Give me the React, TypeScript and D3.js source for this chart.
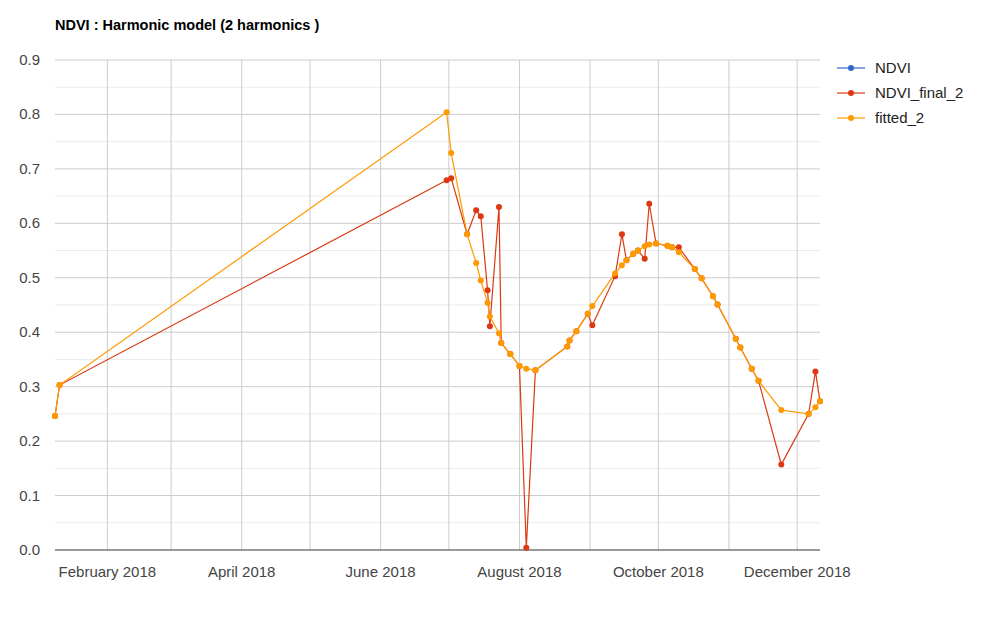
import * as d3 from 'd3';

const dates = [
  '2018-01-09', '2018-01-11', '2018-06-30', '2018-07-02', '2018-07-09', '2018-07-13', '2018-07-15',
  '2018-07-18', '2018-07-19', '2018-07-23', '2018-07-24', '2018-07-28', '2018-08-01', '2018-08-04',
  '2018-08-08', '2018-08-22', '2018-08-23', '2018-08-26', '2018-08-31', '2018-09-02', '2018-09-12',
  '2018-09-15', '2018-09-17', '2018-09-20', '2018-09-22', '2018-09-25', '2018-09-27', '2018-09-30',
  '2018-10-05', '2018-10-07', '2018-10-10', '2018-10-17', '2018-10-20', '2018-10-25', '2018-10-27',
  '2018-11-04', '2018-11-06', '2018-11-11', '2018-11-14', '2018-11-24', '2018-12-06', '2018-12-09',
  '2018-12-11',
];

const ndviFinal = [
  0.246, 0.303, 0.679, 0.683, 0.58, 0.624, 0.613, 0.477, 0.411, 0.63, 0.38, 0.36, 0.338, 0.004,
  0.33, 0.374, 0.385, 0.402, 0.434, 0.413, 0.503, 0.58, 0.532, 0.544, 0.55, 0.535, 0.636, 0.563,
  0.559, 0.556, 0.556, 0.516, 0.499, 0.466, 0.451, 0.388, 0.372, 0.333, 0.311, 0.157, 0.25, 0.328,
  0.273,
];

const fitted = [
  0.246, 0.303, 0.804, 0.729, 0.58, 0.527, 0.495, 0.454, 0.429, 0.398, 0.38, 0.36, 0.338, 0.333,
  0.33, 0.374, 0.385, 0.402, 0.434, 0.448, 0.508, 0.523, 0.532, 0.544, 0.55, 0.558, 0.561, 0.563,
  0.559, 0.556, 0.547, 0.516, 0.499, 0.466, 0.451, 0.388, 0.372, 0.333, 0.311, 0.257, 0.25, 0.262,
  0.273,
];

const yTicks = [0, 0.1, 0.2, 0.3, 0.4, 0.5, 0.6, 0.7, 0.8, 0.9];
const xTickLabels = ['2018-02-01', '2018-04-01', '2018-06-01', '2018-08-01', '2018-10-01', '2018-12-01'];

// NDVI is fully hidden under NDVI_final_2 in the picture, so it only shows in the legend
const series = [
  { name: 'NDVI', values: null as number[] | null, color: '#3366cc' },
  { name: 'NDVI_final_2', values: ndviFinal, color: '#dc3912' },
  { name: 'fitted_2', values: fitted, color: '#ff9900' },
];

const W = 991;
const H = 623;
const m = { left: 55, right: 171, top: 60, bottom: 73 };
const font = 'Arial, "Liberation Sans", sans-serif';

export default function App() {
  const parse = d3.utcParse('%Y-%m-%d');
  const xs = dates.map((d) => parse(d) as Date);
  const x = d3.scaleUtc().domain(d3.extent(xs) as [Date, Date]).range([m.left, W - m.right]);
  const y = d3.scaleLinear().domain([0, 0.9]).range([H - m.bottom, m.top]);
  const months = d3.utcMonth.range(d3.utcMonth.ceil(x.domain()[0]), x.domain()[1]);
  const minor = d3.range(0.05, 0.9, 0.1);
  const fmt = d3.utcFormat('%B %Y');
  const line = d3
    .line<number>()
    .x((_, i) => x(xs[i]))
    .y((v) => y(v));

  return (
    <svg width={W} height={H} style={{ position: 'absolute', left: 0, top: 0, background: '#fff' }} fontFamily={font}>
      <text x={55} y={30} fontSize={14.5} fontWeight="bold" fill="#000">
        NDVI : Harmonic model (2 harmonics )
      </text>
      {minor.map((v) => (
        <line key={'mn' + v} x1={m.left} x2={W - m.right} y1={y(v)} y2={y(v)} stroke="#ebebeb" />
      ))}
      {yTicks.map((v) => (
        <g key={'y' + v}>
          {v > 0 && <line x1={m.left} x2={W - m.right} y1={y(v)} y2={y(v)} stroke="#cccccc" />}
          <text x={40} y={y(v) + 5} fontSize={15} fill="#444" textAnchor="end">
            {v.toFixed(1)}
          </text>
        </g>
      ))}
      {months.map((d) => (
        <line key={'x' + d.getTime()} x1={x(d)} x2={x(d)} y1={m.top} y2={H - m.bottom} stroke="#cccccc" />
      ))}
      {xTickLabels.map((s) => {
        const d = parse(s) as Date;
        return (
          <text key={s} x={x(d)} y={H - m.bottom + 27} fontSize={15} fill="#444" textAnchor="middle">
            {fmt(d)}
          </text>
        );
      })}
      <line x1={m.left} x2={W - m.right} y1={y(0)} y2={y(0)} stroke="#333" />
      {series.map((s) =>
        s.values ? (
          <g key={s.name}>
            <path d={line(s.values) || ''} fill="none" stroke={s.color} strokeWidth={1.2} />
            {s.values.map((v, i) => (
              <circle key={i} cx={x(xs[i])} cy={y(v)} r={3} fill={s.color} />
            ))}
          </g>
        ) : null
      )}
      {series.map((s, i) => (
        <g key={'lg' + s.name} transform={`translate(837,${68 + i * 25})`}>
          <line x1={0} x2={28} y1={0} y2={0} stroke={s.color} strokeWidth={1.2} />
          <circle cx={14} cy={0} r={3} fill={s.color} />
          <text x={38} y={5} fontSize={15} fill="#222">
            {s.name}
          </text>
        </g>
      ))}
    </svg>
  );
}
